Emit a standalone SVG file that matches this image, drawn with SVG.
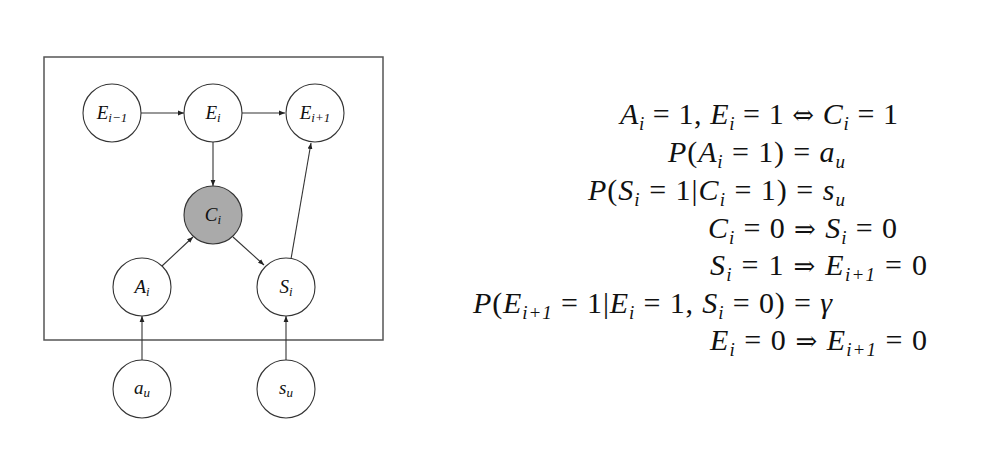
<svg xmlns="http://www.w3.org/2000/svg" width="1000" height="459" viewBox="0 0 1000 459">
<style>
.nd{fill:#fff;stroke:#333;stroke-width:1.1}
.sh{fill:#aaaaaa}
.lb{font-family:"Liberation Serif",serif;font-style:italic;font-size:19px;fill:#111;text-anchor:middle}
.s{font-size:13px;font-style:italic}
.eq{font-family:"Liberation Serif","DejaVu Serif",serif;font-size:30px;fill:#111}
.it{font-style:italic}
.es{font-size:19px;font-style:italic}
.ar{font-family:"DejaVu Serif",serif;font-size:26px}
.cn{stroke:#333;stroke-width:1.1;fill:none;marker-end:url(#ah)}
</style>
<defs>
<marker id="ah" viewBox="0 0 10 10" refX="10" refY="5" markerWidth="6" markerHeight="6" markerUnits="userSpaceOnUse" orient="auto">
<path d="M0,1 L10,5 L0,9 z" fill="#222"/>
</marker>
</defs>
<rect width="1000" height="459" fill="#fff"/>
<rect x="44" y="57" width="339" height="283" fill="none" stroke="#555" stroke-width="1.5"/>
<g id="connectors">
<line class="cn" x1="141" y1="113" x2="184" y2="113"/>
<line class="cn" x1="242" y1="113" x2="285" y2="113"/>
<line class="cn" x1="213" y1="142" x2="213" y2="186"/>
<line class="cn" x1="162" y1="266" x2="193" y2="237"/>
<line class="cn" x1="233" y1="237" x2="264" y2="265"/>
<line class="cn" x1="291" y1="259" x2="311" y2="143"/>
<line class="cn" x1="142" y1="360" x2="142" y2="316"/>
<line class="cn" x1="286" y1="360" x2="286" y2="316"/>
</g>
<g id="n-Eim1"><circle class="nd" cx="112" cy="113" r="29"/><text class="lb" x="112" y="119">E<tspan class="s" dy="3">i−1</tspan></text></g>
<g id="n-Ei"><circle class="nd" cx="213" cy="113" r="29"/><text class="lb" x="213" y="119">E<tspan class="s" dy="3">i</tspan></text></g>
<g id="n-Eip1"><circle class="nd" cx="315" cy="113" r="29"/><text class="lb" x="315" y="119">E<tspan class="s" dy="3">i+1</tspan></text></g>
<g id="n-Ci"><circle class="nd sh" cx="213" cy="215" r="29"/><text class="lb" x="213" y="221">C<tspan class="s" dy="3">i</tspan></text></g>
<g id="n-Ai"><circle class="nd" cx="142" cy="287" r="29"/><text class="lb" x="142" y="293">A<tspan class="s" dy="3">i</tspan></text></g>
<g id="n-Si"><circle class="nd" cx="286" cy="287" r="29"/><text class="lb" x="286" y="293">S<tspan class="s" dy="3">i</tspan></text></g>
<g id="n-au"><circle class="nd" cx="142" cy="389" r="29"/><text class="lb" x="142" y="394">a<tspan class="s" dy="3">u</tspan></text></g>
<g id="n-su"><circle class="nd" cx="286" cy="389" r="29"/><text class="lb" x="286" y="394">s<tspan class="s" dy="3">u</tspan></text></g>
<g id="equations">
<text class="eq" x="620" y="124" textLength="278" lengthAdjust="spacing"><tspan class="it">A</tspan><tspan class="es" dy="6">i</tspan><tspan dy="-6"> = 1, </tspan><tspan class="it">E</tspan><tspan class="es" dy="6">i</tspan><tspan dy="-6"> = 1 </tspan><tspan class="ar">⇔</tspan><tspan> </tspan><tspan class="it">C</tspan><tspan class="es" dy="6">i</tspan><tspan dy="-6"> = 1</tspan></text>
<text class="eq" x="668" y="162" textLength="177" lengthAdjust="spacing"><tspan class="it">P</tspan>(<tspan class="it">A</tspan><tspan class="es" dy="6">i</tspan><tspan dy="-6"> = 1) = </tspan><tspan class="it">a</tspan><tspan class="es" dy="6">u</tspan></text>
<text class="eq" x="588" y="200" textLength="257" lengthAdjust="spacing"><tspan class="it">P</tspan>(<tspan class="it">S</tspan><tspan class="es" dy="6">i</tspan><tspan dy="-6"> = 1|</tspan><tspan class="it">C</tspan><tspan class="es" dy="6">i</tspan><tspan dy="-6"> = 1) = </tspan><tspan class="it">s</tspan><tspan class="es" dy="6">u</tspan></text>
<text class="eq" x="708" y="238" textLength="189" lengthAdjust="spacing"><tspan class="it">C</tspan><tspan class="es" dy="6">i</tspan><tspan dy="-6"> = 0 </tspan><tspan class="ar">⇒</tspan><tspan> </tspan><tspan class="it">S</tspan><tspan class="es" dy="6">i</tspan><tspan dy="-6"> = 0</tspan></text>
<text class="eq" x="710" y="275" textLength="217" lengthAdjust="spacing"><tspan class="it">S</tspan><tspan class="es" dy="6">i</tspan><tspan dy="-6"> = 1 </tspan><tspan class="ar">⇒</tspan><tspan> </tspan><tspan class="it">E</tspan><tspan class="es" dy="6">i+1</tspan><tspan dy="-6"> = 0</tspan></text>
<text class="eq" x="473" y="313" textLength="359" lengthAdjust="spacing"><tspan class="it">P</tspan>(<tspan class="it">E</tspan><tspan class="es" dy="6">i+1</tspan><tspan dy="-6"> = 1|</tspan><tspan class="it">E</tspan><tspan class="es" dy="6">i</tspan><tspan dy="-6"> = 1, </tspan><tspan class="it">S</tspan><tspan class="es" dy="6">i</tspan><tspan dy="-6"> = 0) = </tspan><tspan class="it">γ</tspan></text>
<text class="eq" x="710" y="350" textLength="217" lengthAdjust="spacing"><tspan class="it">E</tspan><tspan class="es" dy="6">i</tspan><tspan dy="-6"> = 0 </tspan><tspan class="ar">⇒</tspan><tspan> </tspan><tspan class="it">E</tspan><tspan class="es" dy="6">i+1</tspan><tspan dy="-6"> = 0</tspan></text>
</g>
</svg>
